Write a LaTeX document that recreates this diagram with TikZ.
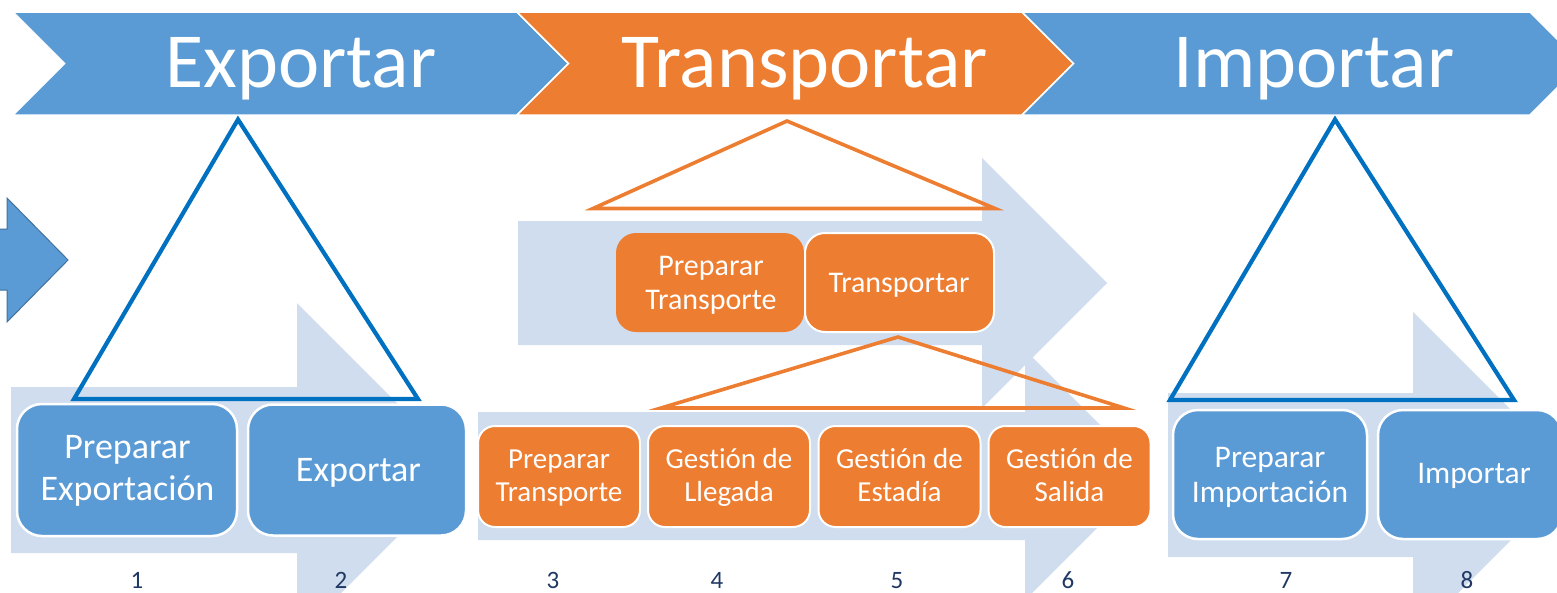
\documentclass[tikz,border=0pt]{standalone}
\usepackage{fontspec}
\setmainfont{Carlito}[Ligatures=NoCommon]
\definecolor{cblue}{RGB}{91,155,213}
\definecolor{corange}{RGB}{237,125,49}
\definecolor{clight}{RGB}{208,221,238}
\definecolor{ctri}{RGB}{0,112,192}
\definecolor{cnum}{RGB}{32,56,100}
\definecolor{cdark}{RGB}{65,113,156}
\begin{document}
\begin{tikzpicture}[x=1pt,y=-1pt,
  band/.style={fill=clight, draw=none},
  chev/.style={draw=white, line width=1.5pt, line join=miter},
  btri/.style={draw=ctri, line width=4.2pt, line join=miter},
  otri/.style={draw=corange, line width=3.6pt, line join=miter},
  head/.style={text=white, anchor=base, inner sep=0pt, font=\fontsize{78}{90}\selectfont},
  bbox/.style={rectangle, rounded corners=25pt, fill=cblue, draw=white, line width=2.5pt, inner sep=0pt},
  obox/.style={rectangle, rounded corners=17pt, fill=corange, draw=white, line width=2pt, inner sep=0pt},
  etxt/.style={text=white, anchor=base, inner sep=0pt, font=\fontsize{36}{43}\selectfont},
  itxt/.style={text=white, anchor=base, inner sep=0pt, font=\fontsize{31.5}{38}\selectfont},
  utxt/.style={text=white, anchor=base, inner sep=0pt, font=\fontsize{30}{36}\selectfont},
  ltxt/.style={text=white, anchor=base, inner sep=0pt, font=\fontsize{29}{35}\selectfont},
  num/.style={text=cnum, anchor=base, inner sep=0pt, font=\fontsize{25}{29}\selectfont}]
\useasboundingbox (0,0) rectangle (1557,592);
\clip (0,0) rectangle (1557,592);
\fill[white] (0,0) rectangle (1557,592);

% light background arrows
\path[band] (11,387) -- (297,387) -- (297,303) -- (464,470) -- (297,637) -- (297,553) -- (11,553) -- cycle;
\path[band] (518,221) -- (982,221) -- (982,158) -- (1107,283) -- (982,408) -- (982,345) -- (518,345) -- cycle;
\path[band] (478,412) -- (1025,412) -- (1025,350) -- (1150,475) -- (1025,600) -- (1025,540) -- (478,540) -- cycle;
\path[band] (1168,393) -- (1413,393) -- (1413,312) -- (1576,475) -- (1413,638) -- (1413,557) -- (1168,557) -- cycle;

% left partial arrow
\draw[fill=cblue, draw=cdark, line width=1pt, line join=miter] (-10,229) -- (7,229) -- (7,198) -- (68,260) -- (7,322) -- (7,290) -- (-10,290) -- cycle;

% chevrons
\draw[chev, fill=cblue] (13,12) -- (517,12) -- (568.5,63.5) -- (517,115) -- (13,115) -- (64.5,63.5) -- cycle;
\draw[chev, fill=corange] (517,12) -- (1022,12) -- (1073.5,63.5) -- (1022,115) -- (517,115) -- (568.5,63.5) -- cycle;
\draw[chev, fill=cblue] (1022,12) -- (1530,12) -- (1581.5,63.5) -- (1530,115) -- (1022,115) -- (1073.5,63.5) -- cycle;
\node[head] (hexp) at (301,87) {Exportar};
\node[head] (htra) at (804.5,87) {Transportar};
\node[head] (himp) at (1314,87) {Importar};

% triangles
\draw[btri] (238,119.5) -- (418,399) -- (74,399) -- cycle;
\draw[otri] (787,121) -- (995,208.5) -- (593,208.5) -- cycle;
\draw[otri] (898,337) -- (1124,408) -- (661,408) -- cycle;
\draw[btri] (1335,119.5) -- (1514,400) -- (1170,400) -- cycle;

% export boxes
\node[bbox, minimum width=220pt, minimum height=132pt] (b1) at (127,470) {};
\node[bbox, minimum width=218pt, minimum height=131pt] (b2) at (357,470) {};
\node[etxt] (t1a) at (127.5,458) {Preparar};
\node[etxt] (t1b) at (127.5,500) {Exportación};
\node[etxt] (t2) at (358.5,481) {Exportar};

% upper transport boxes
\node[obox, draw=none, rounded corners=20pt, minimum width=188pt, minimum height=99pt] (u1) at (710,282.5) {};
\node[obox, rounded corners=20pt, minimum width=189pt, minimum height=99pt] (u2) at (899.5,282.5) {};
\node[utxt] (tu1a) at (711,275) {Preparar};
\node[utxt] (tu1b) at (711,309) {Transporte};
\node[utxt] (tu2) at (899,292) {Transportar};

% lower transport boxes
\node[obox, minimum width=162pt, minimum height=101pt] (l3) at (559,476.5) {};
\node[obox, minimum width=162pt, minimum height=101pt] (l4) at (729,476.5) {};
\node[obox, minimum width=162pt, minimum height=101pt] (l5) at (899.5,476.5) {};
\node[obox, minimum width=162pt, minimum height=101pt] (l6) at (1069.5,476.5) {};
\node[ltxt] (t3a) at (559,468) {Preparar};
\node[ltxt] (t3b) at (559,501) {Transporte};
\node[ltxt] (t4a) at (729,468) {Gestión de};
\node[ltxt] (t4b) at (729,501) {Llegada};
\node[ltxt] (t5a) at (899.5,468) {Gestión de};
\node[ltxt] (t5b) at (899.5,501) {Estadía};
\node[ltxt] (t6a) at (1069.5,468) {Gestión de};
\node[ltxt] (t6b) at (1069.5,501) {Salida};

% import boxes
\node[bbox, minimum width=194pt, minimum height=129pt] (b7) at (1270,474.5) {};
\node[bbox, minimum width=184pt, minimum height=129pt] (b8) at (1470,474.5) {};
\node[itxt] (t7a) at (1270,467) {Preparar};
\node[itxt] (t7b) at (1270,502) {Importación};
\node[itxt] (t8) at (1474,483) {Importar};

% numbers
\node[num] (n1) at (137,588) {1};
\node[num] (n2) at (341,588) {2};
\node[num] (n3) at (553,588) {3};
\node[num] (n4) at (717,588) {4};
\node[num] (n5) at (897,588) {5};
\node[num] (n6) at (1068,588) {6};
\node[num] (n7) at (1286,588) {7};
\node[num] (n8) at (1467,588) {8};
\end{tikzpicture}
\end{document}
